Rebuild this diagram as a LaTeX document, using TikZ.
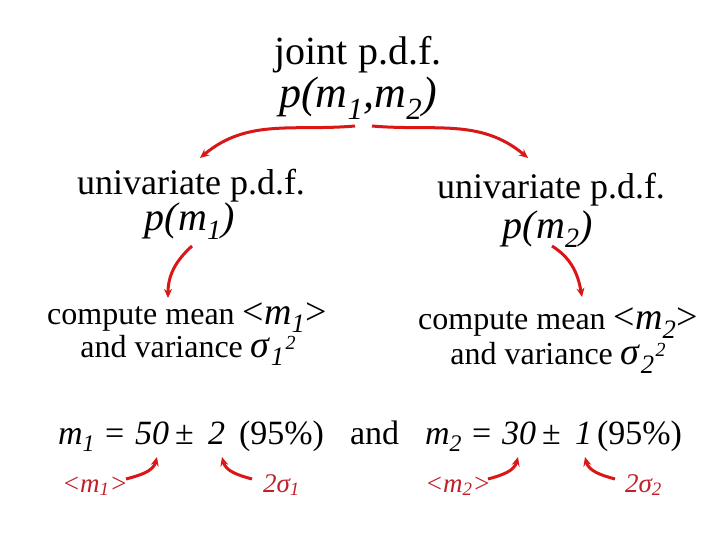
\documentclass[tikz,border=0pt]{standalone}
\usepackage{fontspec}
\usepackage{graphicx}
\setmainfont{Liberation Serif}
\usetikzlibrary{arrows.meta}
\definecolor{arrred}{RGB}{218,22,22}
\definecolor{labred}{RGB}{192,32,42}
\newcommand{\fs}[1]{\fontsize{#1}{#1}\selectfont}
\newcommand{\vm}[1]{\textit{m}\textsubscript{\textit{#1}}}
\newcommand{\vsig}[1]{\textit{σ}\textsubscript{\textit{#1}}\kern1pt\raisebox{8pt}{\fs{20}\textit{2}}}
\begin{document}
\begin{tikzpicture}[x=1pt,y=1pt,
  txt/.style={inner sep=0pt,outer sep=0pt,anchor=base},
  piece/.style={inner sep=0pt,outer sep=0pt,anchor=base west,font=\fs{34}},
  lab/.style={inner sep=0pt,outer sep=0pt,anchor=base west,text=labred,font=\fs{27}\itshape},
  arr/.style={draw=arrred,line width=3pt,-{Stealth[length=9pt,width=8pt]}}]
\path[use as bounding box,fill=white] (0,0) rectangle (720,-540);

% top
\node[txt,font=\fs{40}] (joint) at (358,-65) {joint p.d.f.};
\node[txt,font=\fs{44}\itshape] (pj) at (358,-108) {p(\vm{1},\vm{2})};

% univariate
\node[txt,font=\fs{36}] (u1) at (191,-195) {univariate p.d.f.};
\node[txt,font=\fs{40}\itshape] (p1) at (190,-230) {p(\vm{1})};
\node[txt,font=\fs{36}] (u2) at (551,-199) {univariate p.d.f.};
\node[txt,font=\fs{40}\itshape] (p2) at (548,-238) {p(\vm{2})};

% compute
\node[txt,font=\fs{32}] (c1a) at (187,-324) {compute mean {\fs{38}<\vm{1}>}};
\node[txt,font=\fs{32}] (c1b) at (188,-357) {and variance {\fs{38}\vsig{1}}};
\node[txt,font=\fs{32}] (c2a) at (558,-329) {compute mean {\fs{38}<\vm{2}>}};
\node[txt,font=\fs{32}] (c2b) at (558,-364) {and variance {\fs{38}\vsig{2}}};

% bottom line
\node[piece] (m1) at (58,-444) {\vm{1}};
\node[piece] (eq1) at (105,-444) {=};
\node[piece] (n50) at (135,-444) {\textit{50}};
\node[piece] (pm1) at (175,-444) {±};
\node[piece] (n2) at (208,-444) {\textit{2}};
\node[piece] (pc1) at (239,-444) {(95\%)};
\node[piece] (and) at (350,-444) {and};
\node[piece] (m2) at (425,-444) {\vm{2}};
\node[piece] (eq2) at (472,-444) {=};
\node[piece] (n30) at (502,-444) {\textit{30}};
\node[piece] (pm2) at (542,-444) {±};
\node[piece] (n1) at (575,-444) {\textit{1}};
\node[piece] (pc2) at (597,-444) {(95\%)};

% bottom labels
\node[lab] (lm1) at (62,-492) {<\vm{1}>};
\node[lab] (ls1) at (263,-492) {2σ\textsubscript{1}};
\node[lab] (lm2) at (425,-492) {<\vm{2}>};
\node[lab] (ls2) at (625,-492) {2σ\textsubscript{2}};

% arrows
\draw[arr] ([shift={(-3pt,-18pt)}]pj.base) to[out=185,in=40] ([shift={(9pt,37pt)}]u1.base);
\draw[arr] ([shift={(14pt,-18pt)}]pj.base) to[out=-5,in=140] ([shift={(-23pt,41pt)}]u2.base);
\draw[arr] ([shift={(2pt,-16pt)}]p1.base) to[out=222,in=90] ([shift={(-19pt,26pt)}]c1a.base);
\draw[arr] ([shift={(4pt,-8pt)}]p2.base) to[out=-32,in=100] ([shift={(24pt,32pt)}]c2a.base);

\draw[arr] ([shift={(64pt,13pt)}]lm1.base west) to[out=15,in=-105] ([shift={(22pt,-13pt)}]n50.base west);
\draw[arr] ([shift={(-11pt,13pt)}]ls1.base west) to[out=165,in=-75] ([shift={(14pt,-13pt)}]n2.base west);
\draw[arr] ([shift={(63pt,13pt)}]lm2.base west) to[out=15,in=-105] ([shift={(16pt,-13pt)}]n30.base west);
\draw[arr] ([shift={(-10pt,13pt)}]ls2.base west) to[out=165,in=-75] ([shift={(10pt,-13pt)}]n1.base west);
\end{tikzpicture}
\end{document}
